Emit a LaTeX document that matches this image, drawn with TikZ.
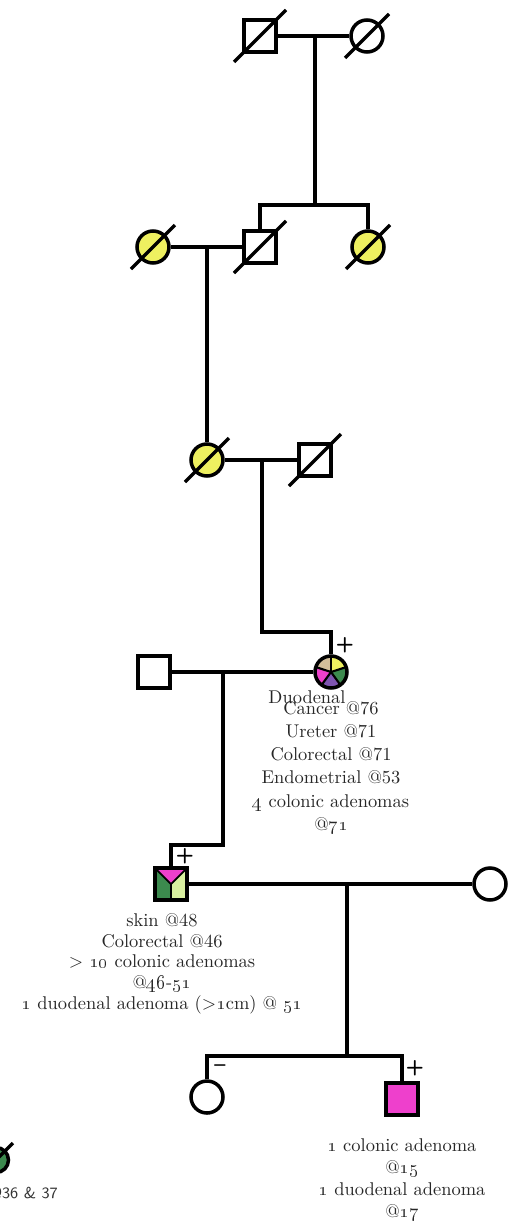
\documentclass[tikz,border=0pt]{standalone}
\usetikzlibrary{calc}
\definecolor{affyel}{HTML}{EEF060}
\definecolor{affmag}{HTML}{EE40CC}
\definecolor{affdgr}{HTML}{3C8A4E}
\definecolor{afflgr}{HTML}{D9F0A0}
\definecolor{afftan}{HTML}{D2BE9A}
\definecolor{affpur}{HTML}{7E55B0}
\definecolor{labblue}{HTML}{2A4A80}
\tikzset{
  male/.style={draw, line width=2pt, rectangle, minimum size=0.64cm, inner sep=0pt, fill=white},
  female/.style={draw, line width=2pt, circle, minimum size=0.64cm, inner sep=0pt, fill=white},
  rel/.style={line width=2pt},
  decd/.style={line width=2pt},
  sgn/.style={font=\large\bfseries\sffamily, inner sep=0pt},
  note/.style={align=center, inner sep=0pt, text=black!85},
  pie/.style={path picture={
    \foreach \a/\c in {90/afftan, 18/affyel, -54/affdgr, -126/affpur, 162/affmag}
      \fill[\c] (path picture bounding box.center) -- ++(\a:0.4cm)
        arc[start angle=\a, delta angle=72, radius=0.4cm] -- cycle;
    \foreach \a in {90, 18, -54, -126, 162}
      \draw[line width=1.2pt] (path picture bounding box.center) -- ++(\a:0.4cm);
  }},
  split/.style={path picture={
    \fill[affdgr] (path picture bounding box.south west) rectangle (path picture bounding box.north);
    \fill[afflgr] (path picture bounding box.south) rectangle (path picture bounding box.north east);
    \fill[affmag] (path picture bounding box.north west) -- (path picture bounding box.center)
      -- (path picture bounding box.north east) -- cycle;
    \draw[line width=1pt] (path picture bounding box.north west) -- (path picture bounding box.center)
      -- (path picture bounding box.north east) (path picture bounding box.center) -- (path picture bounding box.south);
  }},
}
\newcommand{\os}[1]{\oldstylenums{#1}}

\begin{document}
\begin{tikzpicture}[x=0.02cm, y=-0.02cm, font=\fontsize{10.5}{13}\selectfont]
\useasboundingbox (0,0) rectangle (511,1227);
\clip (0,0) rectangle (511,1227);

% ── Generation I ────────────────────────────────────────────
\node[male] (g1a) at (260,36) {};
\node[female] (g1b) at (367,36) {};

% ── Generation II ───────────────────────────────────────────
\node[female, fill=affyel] (g2a) at (153,247) {};
\node[male] (g2b) at (260,247) {};
\node[female, fill=affyel] (g2c) at (368,247) {};

% ── Generation III ──────────────────────────────────────────
\node[female, fill=affyel] (g3a) at (207,460) {};
\node[male] (g3b) at (315,460) {};

% ── Generation IV ───────────────────────────────────────────
\node[male] (g4a) at (154,672) {};
\node[female, pie] (g4b) at (331,672) {};
\node[sgn] at (345,645) {+};
\node[note] (t4a) at (307,697) {Duodenal};
\node[note, font=\fontsize{10.5}{13.2}\selectfont, anchor=north] (t4b) at (331,701)
  {Cancer @76\\Ureter @71\\Colorectal @71\\Endometrial @53\\\os{4} colonic adenomas\\@\os{71}};

% ── Generation V ────────────────────────────────────────────
\node[male, split] (g5a) at (171,884) {};
\node[female] (g5b) at (490,884) {};
\node[sgn] at (185,856) {+};
\node[note, font=\fontsize{10.5}{11.8}\selectfont, anchor=north] (t5) at (162,913)
  {skin @48\\Colorectal @46\\> \os{10} colonic adenomas\\@\os{46}-\os{51}\\\os{1} duodenal adenoma (>\os{1}cm) @ \os{51}};

% ── Generation VI ───────────────────────────────────────────
\node[female] (g6a) at (207,1097) {};
\node[male, fill=affmag] (g6b) at (402,1099) {};
\node[sgn] at (220,1068) {--};
\node[sgn] at (415,1068) {+};
\node[note, font=\fontsize{10.5}{12.6}\selectfont, anchor=north] (t6) at (402,1138)
  {\os{1} colonic adenoma\\@\os{15}\\\os{1} duodenal adenoma\\@\os{17}};

% ── Cut-off parts at the left edge ──────────────────────────
\node[female, fill=affdgr, minimum size=0.5cm] (gx) at (-4,1160) {};
\node[font=\sffamily\small, anchor=east, text=black!80] (tx) at (64,1193) {@36 \& 37};
\node[font=\sffamily\scriptsize, anchor=east, text=labblue] (ty) at (6,266) {2};

% ── Deceased ────────────────────────────────────────────────
\foreach \n/\d in {g1a/26, g1b/22, g2a/22, g2b/26, g2c/22, g3a/22, g3b/26, gx/17}
  \draw[decd] ([shift={(-\d,\d)}]\n.center) -- ([shift={(\d,-\d)}]\n.center);

% ── Lines ───────────────────────────────────────────────────
\coordinate (m1) at (315,36);
\coordinate (s1) at (315,205);
\coordinate (m2) at (207,247);
\coordinate (m3) at (262,460);
\coordinate (k3) at (262,632);
\coordinate (m4) at (223,672);
\coordinate (k4) at (223,845);
\coordinate (m5) at (347,884);
\coordinate (s5) at (347,1056);

\draw[rel] (g1a) -- (g1b);
\draw[rel] (m1) -- (s1);
\draw[rel] (g2b.north) |- (s1);
\draw[rel] (g2c.north) |- (s1);
\draw[rel] (g2a) -- (g2b);
\draw[rel] (m2) -- (g3a);
\draw[rel] (g3a) -- (g3b);
\draw[rel] (m3) -- (k3) -| (g4b.north);
\draw[rel] (g4a) -- (g4b);
\draw[rel] (m4) -- (k4) -| (g5a.north);
\draw[rel] (g5a) -- (g5b);
\draw[rel] (m5) -- (s5);
\draw[rel] (g6a.north) |- (s5);
\draw[rel] (g6b.north) |- (s5);

\end{tikzpicture}
\end{document}
